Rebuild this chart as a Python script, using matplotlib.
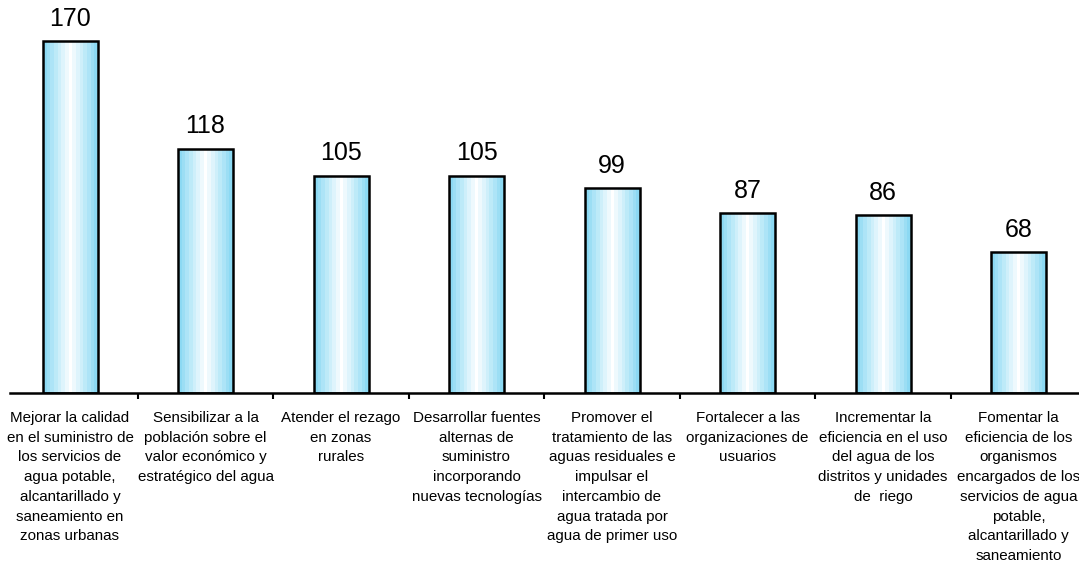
import matplotlib
matplotlib.use("Agg")
import matplotlib.pyplot as plt
import numpy as np
from matplotlib.colors import LinearSegmentedColormap

categories = [
    "Mejorar la calidad\nen el suministro de\nlos servicios de\nagua potable,\nalcantarillado y\nsaneamiento en\nzonas urbanas",
    "Sensibilizar a la\npoblación sobre el\nvalor económico y\nestratégico del agua",
    "Atender el rezago\nen zonas\nrurales",
    "Desarrollar fuentes\nalternas de\nsuministro\nincorporando\nnuevas tecnologías",
    "Promover el\ntratamiento de las\naguas residuales e\nimpulsar el\nintercambio de\nagua tratada por\nagua de primer uso",
    "Fortalecer a las\norganizaciones de\nusuarios",
    "Incrementar la\neficiencia en el uso\ndel agua de los\ndistritos y unidades\nde  riego",
    "Fomentar la\neficiencia de los\norganismos\nencargados de los\nservicios de agua\npotable,\nalcantarillado y\nsaneamiento",
]
values = [170, 118, 105, 105, 99, 87, 86, 68]

plt.rcParams['font.family'] = ['Liberation Sans', 'DejaVu Sans']

W, H = 1079, 567
fig = plt.figure(figsize=(W / 100, H / 100), dpi=100)

spacing = 135.5
x0 = 70.0
left_px = 10
ax_left_data = (left_px - x0) / spacing
ax_right_data = (W - x0) / spacing
base_px = 393
px_per_unit = 2.07
top_px = 0
ymax = (base_px - top_px) / px_per_unit

ax = fig.add_axes([left_px / W, (H - base_px) / H, (W - left_px) / W, (base_px - top_px) / H])
ax.set_xlim(ax_left_data, ax_right_data)
ax.set_ylim(0, ymax)

x = np.arange(len(values))
bar_w = 55 / spacing
bars = ax.bar(x, values, width=bar_w, facecolor='none', edgecolor='black', linewidth=1.8, zorder=3)

cmap = LinearSegmentedColormap.from_list('g', ['#8cd9f3', '#c6edfa', '#ffffff'])
nsteps = 8
prof = np.abs(np.linspace(-1, 1, 15))
prof = 1 - np.round(prof * (nsteps - 1)) / (nsteps - 1)
grad = prof[np.newaxis, :]
for b in bars:
    bx, by = b.get_x(), b.get_y()
    bw, bh = b.get_width(), b.get_height()
    im = ax.imshow(grad, cmap=cmap, vmin=0, vmax=1, aspect='auto',
                   extent=[bx, bx + bw, by, by + bh], interpolation='nearest', zorder=2)
    im.set_clip_path(b)

for xi, v in zip(x, values):
    ax.text(xi, v + 5, str(v), ha='center', va='bottom', fontsize=18, color='black')

for s in ['top', 'right', 'left']:
    ax.spines[s].set_visible(False)
ax.spines['bottom'].set_linewidth(1.8)
ax.set_yticks([])
ax.set_xticks(x)
ax.set_xticklabels(categories, fontsize=10.9, linespacing=1.52)
ax.tick_params(axis='x', which='major', length=0, pad=13)
ax.set_xticks(np.arange(0.5, len(values) - 0.5, 1.0), minor=True)
ax.tick_params(axis='x', which='minor', length=4, width=1.5, direction='out')

fig.savefig('out.png', dpi=100)
